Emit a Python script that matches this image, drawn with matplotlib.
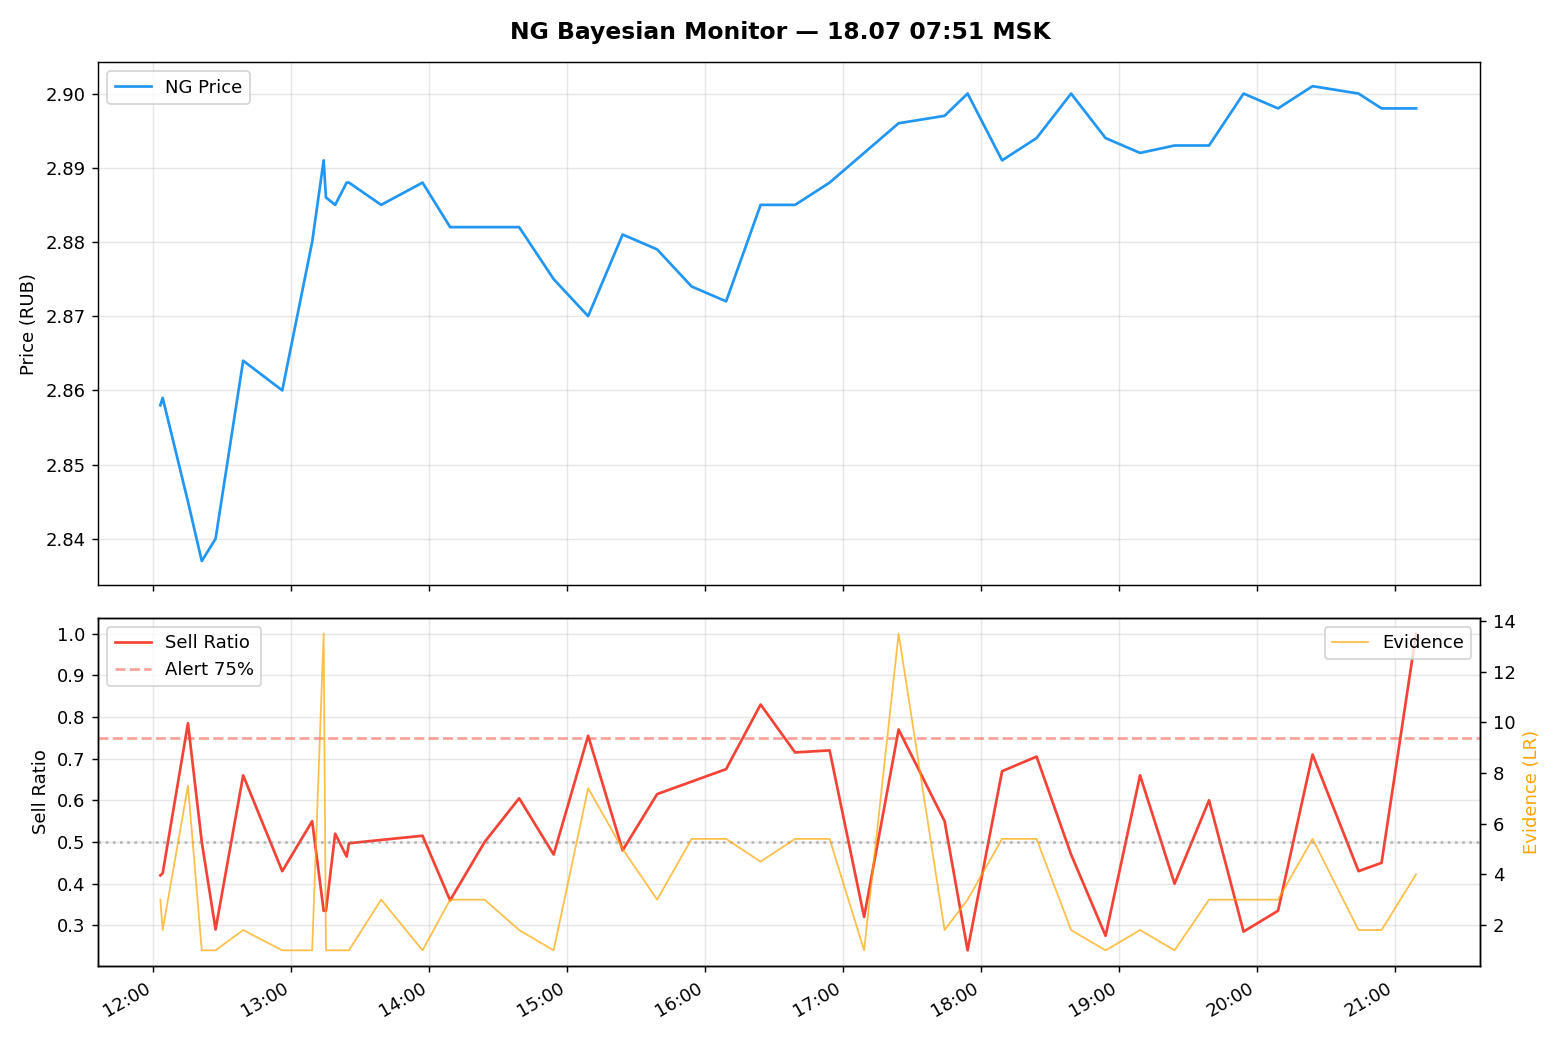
import datetime as dt

import matplotlib
matplotlib.use("Agg")
import matplotlib.pyplot as plt
import matplotlib.dates as mdates

day = "2025-07-18"
times = ["12:03", "12:04", "12:15", "12:21", "12:27", "12:39", "12:56", "13:09",
         "13:14", "13:15", "13:19", "13:24", "13:25", "13:39", "13:57", "14:09",
         "14:24", "14:39", "14:54", "15:09", "15:24", "15:39", "15:54", "16:09",
         "16:24", "16:39", "16:54", "17:09", "17:24", "17:44", "17:54", "18:09",
         "18:24", "18:39", "18:54", "19:09", "19:24", "19:39", "19:54", "20:09",
         "20:24", "20:44", "20:54", "21:09"]
price = [2.858, 2.859, 2.845, 2.837, 2.840, 2.864, 2.860, 2.880,
         2.891, 2.886, 2.885, 2.888, 2.888, 2.885, 2.888, 2.882,
         2.882, 2.882, 2.875, 2.870, 2.881, 2.879, 2.874, 2.872,
         2.885, 2.885, 2.888, 2.892, 2.896, 2.897, 2.900, 2.891,
         2.894, 2.900, 2.894, 2.892, 2.893, 2.893, 2.900, 2.898,
         2.901, 2.900, 2.898, 2.898]
sell_ratio = [0.42, 0.425, 0.785, 0.50, 0.29, 0.66, 0.43, 0.55,
              0.335, 0.335, 0.52, 0.465, 0.497, 0.505, 0.515, 0.36,
              0.50, 0.605, 0.47, 0.755, 0.48, 0.615, 0.645, 0.675,
              0.83, 0.715, 0.72, 0.32, 0.77, 0.55, 0.24, 0.67,
              0.705, 0.47, 0.275, 0.66, 0.40, 0.60, 0.285, 0.335,
              0.71, 0.43, 0.45, 1.0]
evidence = [3.0, 1.8, 7.5, 1.0, 1.0, 1.8, 1.0, 1.0,
            13.5, 1.0, 1.0, 1.0, 1.0, 3.0, 1.0, 3.0,
            3.0, 1.8, 1.0, 7.4, 5.0, 3.0, 5.4, 5.4,
            4.5, 5.4, 5.4, 1.0, 13.5, 1.8, 3.0, 5.4,
            5.4, 1.8, 1.0, 1.8, 1.0, 3.0, 3.0, 3.0,
            5.4, 1.8, 1.8, 4.0]

t = [dt.datetime.strptime(f"{day} {s}", "%Y-%m-%d %H:%M") for s in times]

fig, (ax1, ax2) = plt.subplots(2, 1, figsize=(12, 8), dpi=130, sharex=True,
                               gridspec_kw={"height_ratios": [1.5, 1]})
fig.suptitle("NG Bayesian Monitor — 18.07 07:51 MSK", fontsize=13, fontweight="bold")

ax1.plot(t, price, color="#2196F3", lw=1.5, label="NG Price")
ax1.set_ylabel("Price (RUB)")
ax1.grid(True, alpha=0.3)
ax1.legend(loc="upper left")

ax2.plot(t, sell_ratio, color="#F44336", lw=1.5, label="Sell Ratio")
ax2.axhline(0.75, color="#F44336", ls="--", alpha=0.5, label="Alert 75%")
ax2.axhline(0.5, color="gray", ls=":", alpha=0.5)
ax2.set_ylabel("Sell Ratio")
ax2.grid(True, alpha=0.3)
ax2.legend(loc="upper left")

ax3 = ax2.twinx()
ax3.plot(t, evidence, color="orange", lw=1, alpha=0.7, label="Evidence")
ax3.set_ylabel("Evidence (LR)", color="orange")
ax3.legend(loc="upper right")

ax2.xaxis.set_major_formatter(mdates.DateFormatter("%H:%M"))
ax2.xaxis.set_major_locator(mdates.HourLocator())
ax2.set_xlim(dt.datetime(2025, 7, 18, 11, 36), dt.datetime(2025, 7, 18, 21, 37))
fig.autofmt_xdate()

fig.subplots_adjust(left=0.063, right=0.949, top=0.94, bottom=0.071, hspace=0.076)
fig.savefig("out.png", dpi=130)
